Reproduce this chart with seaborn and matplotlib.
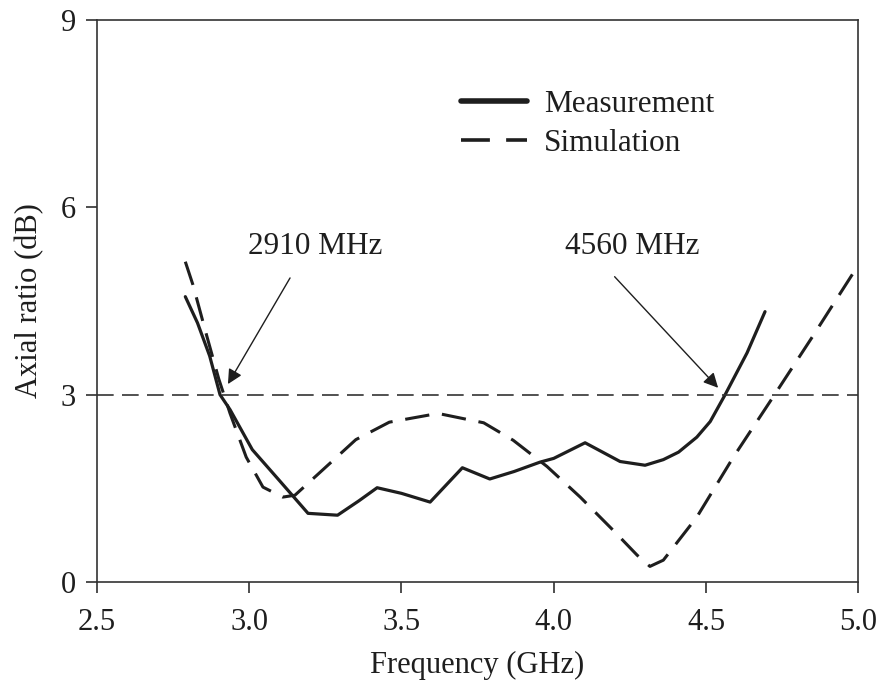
import matplotlib
matplotlib.use("Agg")
import matplotlib.pyplot as plt
import seaborn as sns
import pandas as pd

meas_f = [2.79, 2.83, 2.87, 2.904, 2.937, 3.01, 3.10, 3.193, 3.29, 3.36, 3.42, 3.50, 3.594,
          3.70, 3.79, 3.87, 3.955, 4.00, 4.103, 4.218, 4.30, 4.36, 4.41, 4.47, 4.514, 4.563,
          4.635, 4.694]
meas_ar = [4.57, 4.15, 3.62, 3.00, 2.76, 2.12, 1.62, 1.10, 1.07, 1.30, 1.51, 1.42, 1.28,
           1.83, 1.65, 1.77, 1.92, 1.98, 2.23, 1.93, 1.87, 1.96, 2.08, 2.32, 2.57, 3.00,
           3.67, 4.33]

sim_f = [2.79, 2.815, 2.86, 2.90, 2.937, 2.99, 3.045, 3.11, 3.15, 3.24, 3.35, 3.46, 3.62,
         3.77, 3.867, 3.978, 4.087, 4.195, 4.274, 4.316, 4.36, 4.47, 4.59, 4.72, 4.85, 4.997]
sim_ar = [5.13, 4.76, 3.95, 3.25, 2.70, 2.00, 1.52, 1.36, 1.39, 1.79, 2.28, 2.56, 2.70,
          2.55, 2.27, 1.85, 1.36, 0.83, 0.43, 0.25, 0.35, 1.04, 2.00, 2.96, 3.93, 5.05]

x_ticks = [2.5, 3.0, 3.5, 4.0, 4.5, 5.0]
x_labels = ["2.5", "3.0", "3.5", "4.0", "4.5", "5.0"]
y_ticks = [0, 3, 6, 9]
threshold = 3.0
ann_labels = ["2910 MHz", "4560 MHz"]

sns.set_style("ticks")
plt.rcParams['font.family'] = ['Liberation Serif', 'DejaVu Serif']

ink = "#1e1e1e"
fig = plt.figure(figsize=(8.82, 6.82), dpi=100)
ax = fig.add_axes([0.110, 0.1466, 0.863, 0.824])

df_m = pd.DataFrame({"f": meas_f, "ar": meas_ar})
df_s = pd.DataFrame({"f": sim_f, "ar": sim_ar})
sns.lineplot(data=df_m, x="f", y="ar", ax=ax, color=ink, lw=2.3, sort=False,
             estimator=None, label="Measurement")
sns.lineplot(data=df_s, x="f", y="ar", ax=ax, color=ink, lw=2.2, sort=False,
             estimator=None, label="Simulation", dashes=False)
ax.lines[1].set_dashes([8, 4.2])
ax.axhline(threshold, color="#333333", lw=1.2, dashes=[10, 5])

ax.set_xlim(2.5, 5.0)
ax.set_ylim(0, 9)
ax.set_xticks(x_ticks)
ax.set_xticklabels(x_labels)
ax.set_yticks(y_ticks)
ax.tick_params(direction="out", length=8, width=1.1, colors=ink, labelsize=22)
ax.tick_params(axis="x", pad=11)
ax.tick_params(axis="y", pad=7)
for s in ax.spines.values():
    s.set_visible(True)
    s.set_linewidth(1.2)
    s.set_color("#333333")
ax.set_xlabel("Frequency (GHz)", fontsize=22, color=ink, labelpad=10)
ax.set_ylabel("Axial ratio (dB)", fontsize=22, color=ink, labelpad=12)

ap = dict(arrowstyle="-|>", color=ink, lw=1.0, mutation_scale=22, shrinkA=0, shrinkB=0)
ax.text(3.216, 5.38, ann_labels[0], fontsize=22.5, color=ink, ha="center", va="center")
ax.annotate("", xy=(2.93, 3.17), xytext=(3.134, 4.87), arrowprops=ap)
ax.text(4.257, 5.38, ann_labels[1], fontsize=22.5, color=ink, ha="center", va="center")
ax.annotate("", xy=(4.54, 3.11), xytext=(4.20, 4.89), arrowprops=ap)

leg = ax.legend(loc="upper left", bbox_to_anchor=(0.462, 0.897), frameon=False, fontsize=22.5,
                handlelength=2.1, handletextpad=0.55, labelspacing=0.3, borderaxespad=0)
for t in leg.get_texts():
    t.set_color(ink)
hl = leg.get_lines()
hl[0].set_linewidth(4)
hl[1].set_linewidth(2.6)
hl[1].set_dashes([8, 4.5])

fig.savefig("out.png", dpi=100)
